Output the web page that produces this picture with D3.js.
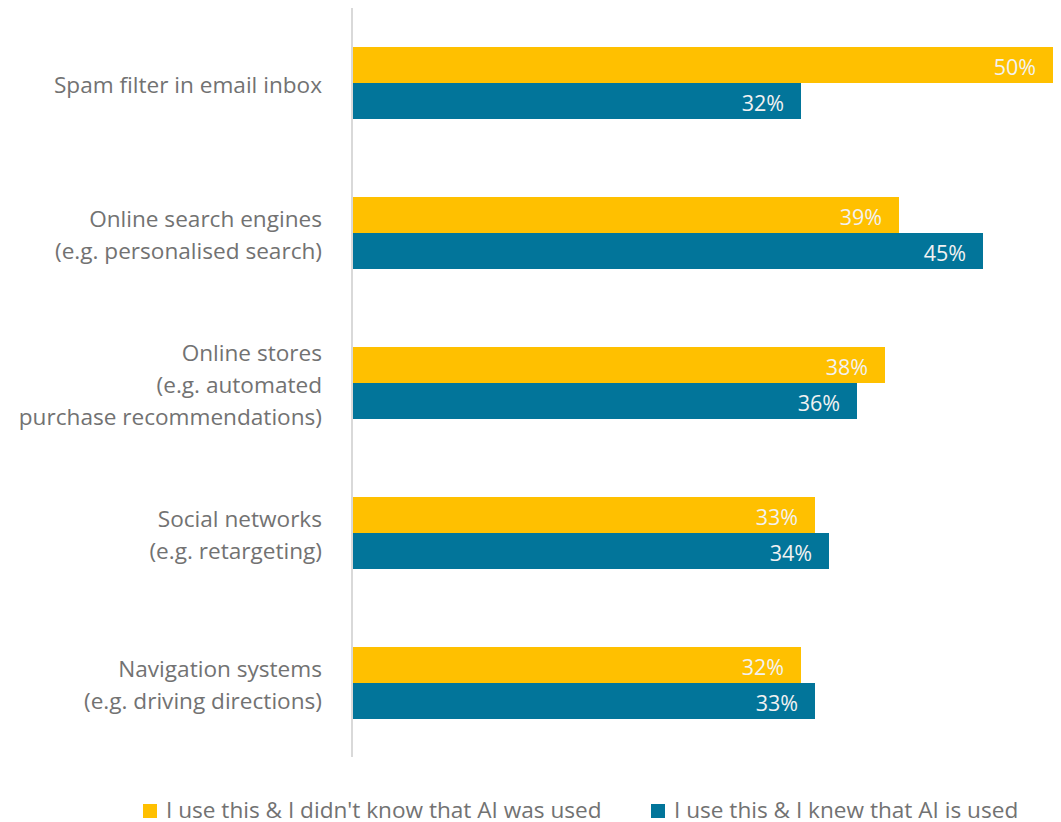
<!DOCTYPE html>
<html>
<head>
<meta charset="utf-8">
<script src="https://cdn.jsdelivr.net/npm/d3@7"></script>
<style>
  html, body { margin: 0; padding: 0; background: #fff; }
  svg text { font-family: "Open Sans", "Noto Sans", sans-serif; }
</style>
</head>
<body>
<svg id="chart" width="1061" height="822"></svg>
<script>
// Usage of AI-powered services, by awareness
const categories = [
  ["Spam filter in email inbox"],
  ["Online search engines", "(e.g. personalised search)"],
  ["Online stores", "(e.g. automated", "purchase recommendations)"],
  ["Social networks", "(e.g. retargeting)"],
  ["Navigation systems", "(e.g. driving directions)"]
];
const seriesNames = ["I use this & I didn't know that AI was used", "I use this & I knew that AI is used"];
const didntKnow = [50, 39, 38, 33, 32];
const knew = [32, 45, 36, 34, 33];
const colors = ["#FFC000", "#02759A"];

const svg = d3.select("#chart");
const x0 = 353, x50 = 1053, yTop = 8, yBottom = 758;

const x = d3.scaleLinear().domain([0, 50]).range([x0, x50]);
const y = d3.scaleBand()
  .domain(d3.range(categories.length))
  .range([yTop, yBottom])
  .paddingInner(0.52)
  .paddingOuter(0.26);
const ySub = d3.scaleBand().domain([0, 1]).range([0, y.bandwidth()]);

const series = [didntKnow, knew];

// bars
series.forEach((vals, si) => {
  const g = svg.append("g");
  g.selectAll("rect").data(vals).join("rect")
    .attr("x", x(0))
    .attr("y", (d, i) => y(i) + ySub(si))
    .attr("width", d => x(d) - x(0))
    .attr("height", ySub.bandwidth())
    .attr("fill", colors[si]);
  g.selectAll("text").data(vals).join("text")
    .attr("x", d => x(d) - 17)
    .attr("y", (d, i) => y(i) + ySub(si) + ySub.bandwidth() / 2 + 2)
    .attr("dy", "0.35em")
    .attr("text-anchor", "end")
    .attr("font-size", 21.5)
    .attr("fill", "#F2F2F2")
    .text(d => d + "%");
});

// category axis line
svg.append("line")
  .attr("x1", 352).attr("x2", 352)
  .attr("y1", yTop).attr("y2", yBottom - 1)
  .attr("stroke", "#D9D9D9").attr("stroke-width", 2);

// category labels
const lineH = 32;
categories.forEach((lines, i) => {
  const cy = y(i) + y.bandwidth() / 2 + 2;
  const t = svg.append("text")
    .attr("text-anchor", "end")
    .attr("font-size", 22.6)
    .attr("fill", "#727272");
  lines.forEach((ln, k) => {
    t.append("tspan")
      .attr("x", 322)
      .attr("y", cy + (k - (lines.length - 1) / 2) * lineH)
      .attr("dy", "0.35em")
      .text(ln);
  });
});

// legend
const legendX = [143, 651];
seriesNames.forEach((name, si) => {
  svg.append("rect")
    .attr("x", legendX[si]).attr("y", 804)
    .attr("width", 14).attr("height", 14)
    .attr("fill", colors[si]);
  svg.append("text")
    .attr("x", legendX[si] + 23).attr("y", 810)
    .attr("dy", "0.35em")
    .attr("font-size", 22.6)
    .attr("fill", "#727272")
    .text(name);
});
</script>
</body>
</html>
